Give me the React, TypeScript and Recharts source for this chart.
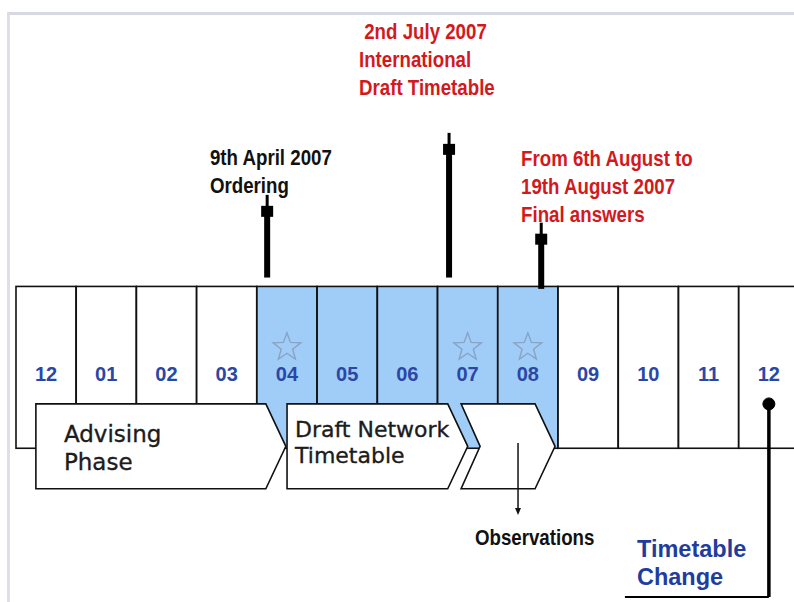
import React from 'react';
import {
  BarChart,
  Bar,
  XAxis,
  YAxis,
  ReferenceArea,
  ReferenceLine,
  ReferenceDot,
} from 'recharts';

// months of the timetable year (Dec 2006 -> Dec 2007)
const MONTHS = ['12', '01', '02', '03', '04', '05', '06', '07', '08', '09', '10', '11', '12'];
const IN_PROCESS = [false, false, false, false, true, true, true, true, true, false, false, false, false];
const STARRED = [false, false, false, false, true, false, false, true, true, false, false, false, false];
const BOX_SPAN: [number, number] = [0, 1];

// phases, on the time axis (months counted from the start of December 2006)
const PHASE_LABELS = [['Advising', 'Phase'], ['Draft Network', 'Timetable'], []];
const PHASE_FROM = [0.33, 4.5, 7.39];
const PHASE_TO = [4.48, 7.5, 8.95];
const PHASE_LOW = -0.25;
const PHASE_HIGH = 0.274;

// milestones with arrows pointing up
const MILESTONE_LINES = [
  ['9th April 2007', 'Ordering'],
  ['\u00a02nd July 2007', 'International', 'Draft Timetable'],
  ['From 6th August to', '19th August 2007', 'Final answers'],
];
const MILESTONE_AT = [4.17, 7.19, 8.72];
const MILESTONE_BASE = [1.055, 1.055, 0.985];
const MILESTONE_TIP = [1.566, 1.949, 1.394];
const MILESTONE_TEXT_AT = [3.22, 5.695, 8.385];
const MILESTONE_TEXT_LEVEL = [1.751, 2.53, 1.745];
const MILESTONE_RED = [false, true, true];

// observations arrow and timetable change marker
const OBS_AT = 8.335;
const OBS_FROM = 0.033;
const OBS_TO = -0.412;
const OBS_TEXT_AT = 7.62;
const OBS_TEXT_LEVEL = -0.598;
const CHANGE_AT = 12.5;
const CHANGE_TOP = 0.274;
const CHANGE_BOTTOM = -0.919;
const CHANGE_LINE_FROM = 10.11;
const CHANGE_TEXT_AT = 10.31;
const CHANGE_TEXT_LEVEL = -0.672;
const CHANGE_LINES = ['Timetable', 'Change'];

const rows = MONTHS.map((m, i) => ({
  m,
  mid: i + 0.5,
  span: BOX_SPAN,
  blue: IN_PROCESS[i],
  star: STARRED[i],
}));

const ARIAL = "'Liberation Sans', Arial, sans-serif";
const VERDANA = "'DejaVu Sans', Verdana, sans-serif";
const RED = '#d31920';

const starPoints = (cx: number, cy: number, R: number, r: number) => {
  const pts: string[] = [];
  for (let k = 0; k < 10; k++) {
    const a = -Math.PI / 2 + (k * Math.PI) / 5;
    const rad = k % 2 === 0 ? R : r;
    pts.push(`${cx + rad * Math.cos(a)},${cy + rad * Math.sin(a)}`);
  }
  return pts.join(' ');
};

const MonthBox = (props: any) => {
  const { x, width, payload } = props;
  const y = Math.min(props.y, props.y + props.height);
  const h = Math.abs(props.height);
  const cx = x + width / 2;
  return (
    <g>
      <rect
        x={x}
        y={y}
        width={width}
        height={h}
        fill={payload.blue ? '#a0ccf8' : '#ffffff'}
        stroke="#111"
        strokeWidth={1.6}
      />
      {payload.star && (
        <polygon
          points={starPoints(cx, y + h * 0.376, 14.5, 6)}
          fill="none"
          stroke="#89a3c4"
          strokeWidth={1.4}
        />
      )}
      <text
        x={cx}
        y={y + h * 0.587}
        textAnchor="middle"
        fontFamily={ARIAL}
        fontWeight="bold"
        fontSize={20}
        fill="#2b47a6"
      >
        {payload.m}
      </text>
    </g>
  );
};

// text offsets inside each chevron
const PHASE_TEXT = [
  { dx: 28, dy: 38, gap: 28, size: 23 },
  { dx: 8, dy: 33, gap: 26, size: 22 },
  { dx: 0, dy: 0, gap: 0, size: 22 },
];

const chevron = (i: number) => (p: any) => {
  const { x, y, width, height } = p;
  const tip = 20;
  const notch = i === 2 ? 19 : 0;
  const mid = y + height / 2;
  const pts = [
    [x, y],
    [x + width - tip, y],
    [x + width, mid],
    [x + width - tip, y + height],
    [x, y + height],
    [x + notch, mid],
  ]
    .map((q) => q.join(','))
    .join(' ');
  const st = PHASE_TEXT[i];
  return (
    <g>
      <polygon points={pts} fill="#fff" stroke="#111" strokeWidth={1.6} />
      <text fontFamily={VERDANA} fontSize={st.size} fill="#1c1c1c" stroke="#1c1c1c" strokeWidth={0.35}>
        {PHASE_LABELS[i].map((l, k) => (
          <tspan key={k} x={x + st.dx} y={y + st.dy + k * st.gap}>
            {l}
          </tspan>
        ))}
      </text>
    </g>
  );
};

const upArrow = (p: any) => {
  const x = p.x1;
  const top = Math.min(p.y1, p.y2);
  const bottom = Math.max(p.y1, p.y2);
  return (
    <g fill="#000">
      <rect x={x - 3} y={top + 18} width={6} height={bottom - top - 18} />
      <rect x={x - 6} y={top + 11} width={12} height={11} />
      <rect x={x - 1.5} y={top} width={3} height={12} />
    </g>
  );
};

const downArrow = (p: any) => {
  const x = p.x1;
  const top = Math.min(p.y1, p.y2);
  const bottom = Math.max(p.y1, p.y2);
  return (
    <g>
      <line x1={x} y1={top} x2={x} y2={bottom - 4} stroke="#111" strokeWidth={1.5} />
      <polygon points={`${x - 3},${bottom - 7} ${x + 3},${bottom - 7} ${x},${bottom}`} fill="#111" />
    </g>
  );
};

const note =
  (lines: string[], color: string, size: number, squeeze: number, gap: number, family: string) =>
  (p: any) => (
    <g transform={`translate(${p.cx},${p.cy}) scale(${squeeze},1)`}>
      <text fontFamily={family} fontWeight="bold" fontSize={size} fill={color}>
        {lines.map((l, k) => (
          <tspan key={k} x={0} y={k * gap}>
            {l}
          </tspan>
        ))}
      </text>
    </g>
  );

export default function App() {
  return (
    <div style={{ position: 'absolute', left: 0, top: 0, width: 794, height: 602, background: '#fff' }}>
      <div
        style={{
          position: 'absolute',
          left: 7,
          top: 12,
          right: 0,
          bottom: 0,
          borderTop: '3px solid #d6dae0',
          borderLeft: '3px solid #dde1e6',
        }}
      />
      <div style={{ position: 'absolute', left: 0, top: 0 }}>
        <BarChart
          width={794}
          height={602}
          data={rows}
          margin={{ top: 0, right: -5, bottom: 0, left: 16 }}
          barCategoryGap={0}
          barGap={0}
        >
          <XAxis xAxisId="month" dataKey="m" hide />
          <XAxis
            xAxisId="time"
            dataKey="mid"
            type="number"
            domain={[0, MONTHS.length]}
            allowDataOverflow
            hide
          />
          <YAxis type="number" domain={[-0.95, 2.77]} allowDataOverflow hide />

          <Bar xAxisId="month" dataKey="span" shape={MonthBox} isAnimationActive={false} />

          {PHASE_FROM.map((from, i) => (
            <ReferenceArea
              key={`phase-${i}`}
              xAxisId="time"
              x1={from}
              x2={PHASE_TO[i]}
              y1={PHASE_LOW}
              y2={PHASE_HIGH}
              shape={chevron(i)}
              zIndex={700}
            />
          ))}

          {MILESTONE_AT.map((at, i) => (
            <ReferenceLine
              key={`arrow-${i}`}
              xAxisId="time"
              segment={[
                { x: at, y: MILESTONE_BASE[i] },
                { x: at, y: MILESTONE_TIP[i] },
              ]}
              shape={upArrow}
              zIndex={800}
            />
          ))}

          <ReferenceLine
            xAxisId="time"
            segment={[
              { x: OBS_AT, y: OBS_FROM },
              { x: OBS_AT, y: OBS_TO },
            ]}
            shape={downArrow}
            zIndex={800}
          />

          <ReferenceLine
            xAxisId="time"
            segment={[
              { x: CHANGE_AT, y: CHANGE_TOP },
              { x: CHANGE_AT, y: CHANGE_BOTTOM },
            ]}
            stroke="#000"
            strokeWidth={3.5}
            zIndex={800}
          />
          <ReferenceLine
            xAxisId="time"
            segment={[
              { x: CHANGE_LINE_FROM, y: CHANGE_BOTTOM },
              { x: CHANGE_AT, y: CHANGE_BOTTOM },
            ]}
            stroke="#000"
            strokeWidth={2}
            zIndex={800}
          />
          <ReferenceDot
            xAxisId="time"
            x={CHANGE_AT}
            y={CHANGE_TOP}
            r={6}
            fill="#000"
            stroke="#000"
            zIndex={850}
          />

          {MILESTONE_TEXT_AT.map((at, i) => (
            <ReferenceDot
              key={`note-${i}`}
              xAxisId="time"
              x={at}
              y={MILESTONE_TEXT_LEVEL[i]}
              r={0}
              shape={note(MILESTONE_LINES[i], MILESTONE_RED[i] ? RED : '#111', 22, 0.85, 28, ARIAL)}
              zIndex={900}
            />
          ))}

          <ReferenceDot
            xAxisId="time"
            x={OBS_TEXT_AT}
            y={OBS_TEXT_LEVEL}
            r={0}
            shape={note(['Observations'], '#111', 22, 0.85, 28, ARIAL)}
            zIndex={900}
          />
          <ReferenceDot
            xAxisId="time"
            x={CHANGE_TEXT_AT}
            y={CHANGE_TEXT_LEVEL}
            r={0}
            shape={note(CHANGE_LINES, '#1f3d9e', 23.5, 1, 28, ARIAL)}
            zIndex={900}
          />
        </BarChart>
      </div>
    </div>
  );
}
